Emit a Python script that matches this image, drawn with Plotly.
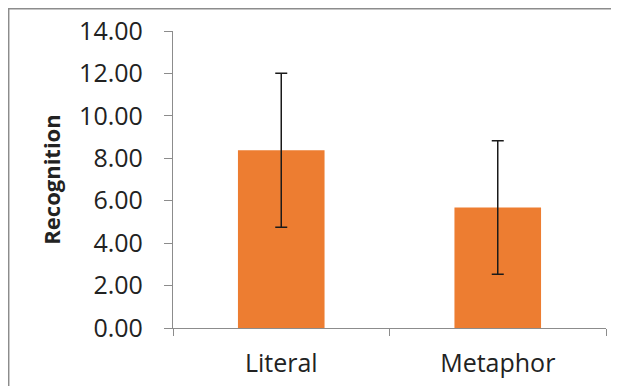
import plotly.graph_objects as go

categories = ["Literal", "Metaphor"]
means = [8.38, 5.68]
errors = [3.63, 3.15]

# page body has an 8px margin; figure coordinates are offset by 8px
OFF = 8
W, H = 619 - OFF, 386 - OFF
L, T = 173 - OFF, 31 - OFF
R = W - (606 - OFF)
B = H - (328 - OFF)
pw, ph = W - L - R, H - T - B

def px_x(px):
    return (px - OFF - L) / pw

def px_y(py):
    return (H - B - (py - OFF)) / ph

fig = go.Figure()
fig.add_trace(go.Bar(
    x=categories, y=means,
    marker=dict(color="#ED7D31", line=dict(width=0)),
    error_y=dict(type="data", array=errors, visible=True, color="#1a1a1a", thickness=1.5, width=6),
))

fig.update_layout(
    template="none",
    width=W, height=H,
    margin=dict(l=L, r=R, t=T, b=B, autoexpand=False),
    paper_bgcolor="white", plot_bgcolor="white",
    bargap=0.6,
    showlegend=False,
    font=dict(family="Open Sans", color="#222222"),
    xaxis=dict(
        automargin=False,
        showline=True, linecolor="#8c8c8c", linewidth=1.3,
        ticks="outside", tickson="boundaries", ticklen=7, tickcolor="#8c8c8c",
        tickfont=dict(size=25, color="#222222"),
        ticklabelstandoff=13,
        showgrid=False,
    ),
    yaxis=dict(
        automargin=False,
        range=[0, 14], dtick=2, tickformat=".2f",
        showline=True, linecolor="#8c8c8c", linewidth=1.3,
        ticks="outside", ticklen=8, tickcolor="#8c8c8c",
        tickfont=dict(size=25, color="#222222"),
        ticklabelstandoff=16,
        showgrid=False, zeroline=False,
        title=dict(text="<b>Recognition</b>", font=dict(size=22, color="#222222"), standoff=12),
    ),
    shapes=[
        dict(type="line", xref="paper", yref="paper", x0=px_x(8), y0=px_y(8.7), x1=px_x(640), y1=px_y(8.7),
             line=dict(color="#8c8c8c", width=1.5)),
        dict(type="line", xref="paper", yref="paper", x0=px_x(8.7), y0=px_y(8), x1=px_x(8.7), y1=px_y(400),
             line=dict(color="#8c8c8c", width=1.5)),
    ],
)

fig.write_html("out.html")
